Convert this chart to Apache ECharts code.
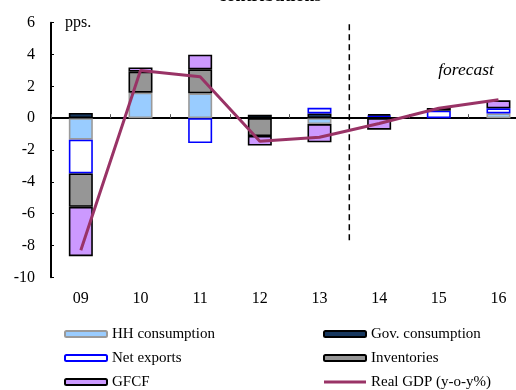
<!DOCTYPE html>
<html>
<head>
<meta charset="utf-8">
<script src="https://cdn.jsdelivr.net/npm/echarts@6/dist/echarts.min.js"></script>
<style>html,body{margin:0;padding:0;background:#fff;}#c{width:516px;height:390px;}</style>
</head>
<body>
<div id="c"></div>
<script>
var categories = ['09', '10', '11', '12', '13', '14', '15', '16'];
var hhConsumption = [-1.35, 1.6, 1.56, null, -0.37, null, null, 0.3];
var govConsumption = [0.33, null, null, 0.22, 0.3, 0.1, null, null];
var netExports = [-2.12, null, -1.56, null, 0.35, 0.06, 0.47, 0.32];
var inventories = [-2.1, 1.32, 1.51, -1.12, null, 0.1, 0.17, null];
var gfcf = [-3.1, 0.27, 0.92, -0.6, -1.15, -0.72, null, 0.5];
var realGdp = [-8.3, 3.0, 2.6, -1.45, -1.2, -0.33, 0.62, 1.16];
var forecastDivider = [[5, 5.9], [5, -7.7]];
var yTicks = {min: -10, max: 6, interval: 2};

var serif = 'Liberation Serif';
var chart = echarts.init(document.getElementById('c'), null, {renderer: 'canvas'});

function barSeries(name, data, fill, border) {
  return {
    name: name, type: 'bar', stack: 'c', data: data, barWidth: 24, xAxisIndex: 0,
    itemStyle: {color: fill, borderColor: border, borderWidth: 1.6},
    emphasis: {disabled: true}, animation: false
  };
}

var legendBase = {
  orient: 'vertical', itemWidth: 42, itemHeight: 6, itemGap: 8, padding: 0, height: 80,
  top: 326, selectedMode: false,
  textStyle: {fontFamily: serif, fontSize: 15, color: '#000', lineHeight: 16}
};

chart.setOption({
  animation: false,
  textStyle: {fontFamily: serif},
  grid: {left: 51, right: -12.3, top: 22.7, bottom: 112.7, outerBoundsMode: 'none'},
  graphic: [
    {type: 'text', style: {text: 'contributions', x: 270, y: 5, textAlign: 'center', textVerticalAlign: 'bottom', font: 'bold 18px "Liberation Serif"', fill: '#000'}},
    {type: 'text', style: {text: 'pps.', x: 65, y: 23, textVerticalAlign: 'middle', font: '16px "Liberation Serif"', fill: '#000'}},
    {type: 'text', style: {text: 'forecast', x: 466, y: 70, textAlign: 'center', textVerticalAlign: 'middle', font: 'italic 17.5px "Liberation Serif"', fill: '#000'}}
  ],
  legend: [
    Object.assign({}, legendBase, {left: 64, data: ['HH consumption', 'Net exports', 'GFCF']}),
    Object.assign({}, legendBase, {left: 323, data: [
      'Gov. consumption', 'Inventories',
      {name: 'Real GDP (y-o-y%)', icon: 'path://M0,0L42,0L42,3L0,3Z', itemStyle: {color: '#993366', borderWidth: 0}}
    ]})
  ],
  xAxis: [
    {
      type: 'category', data: categories, position: 'bottom',
      axisLine: {show: false, onZero: false}, axisTick: {show: false},
      axisLabel: {fontFamily: serif, fontSize: 16, color: '#000', margin: 13}
    },
    {
      type: 'category', data: categories, position: 'bottom',
      axisLine: {show: true, onZero: true, lineStyle: {color: '#000', width: 2}},
      axisTick: {show: true, inside: true, length: 4, lineStyle: {color: '#555', width: 1}},
      axisLabel: {show: false}
    },
    {type: 'value', min: 0, max: 8, show: false}
  ],
  yAxis: {
    type: 'value', min: yTicks.min, max: yTicks.max, interval: yTicks.interval,
    axisLine: {show: true, onZero: false, lineStyle: {color: '#000', width: 2}},
    axisTick: {show: true, inside: true, length: 3, lineStyle: {color: '#000', width: 1}},
    axisLabel: {fontFamily: serif, fontSize: 16, color: '#000', margin: 16},
    splitLine: {show: false}
  },
  series: [
    barSeries('HH consumption', hhConsumption, '#99CCFF', '#9a9a9a'),
    barSeries('Gov. consumption', govConsumption, '#17375E', '#000'),
    barSeries('Net exports', netExports, '#ffffff', '#0000FF'),
    barSeries('Inventories', inventories, '#969696', '#000'),
    barSeries('GFCF', gfcf, '#CC99FF', '#000'),
    {
      name: 'Real GDP (y-o-y%)', type: 'line', data: realGdp, xAxisIndex: 0,
      symbol: 'none', lineStyle: {color: '#993366', width: 3}, itemStyle: {color: '#993366'}, z: 5
    },
    {
      name: 'divider', type: 'line', data: forecastDivider, xAxisIndex: 2,
      symbol: 'none', silent: true, lineStyle: {color: '#000', width: 1.5, type: [6, 4]}
    }
  ]
});
</script>
</body>
</html>
